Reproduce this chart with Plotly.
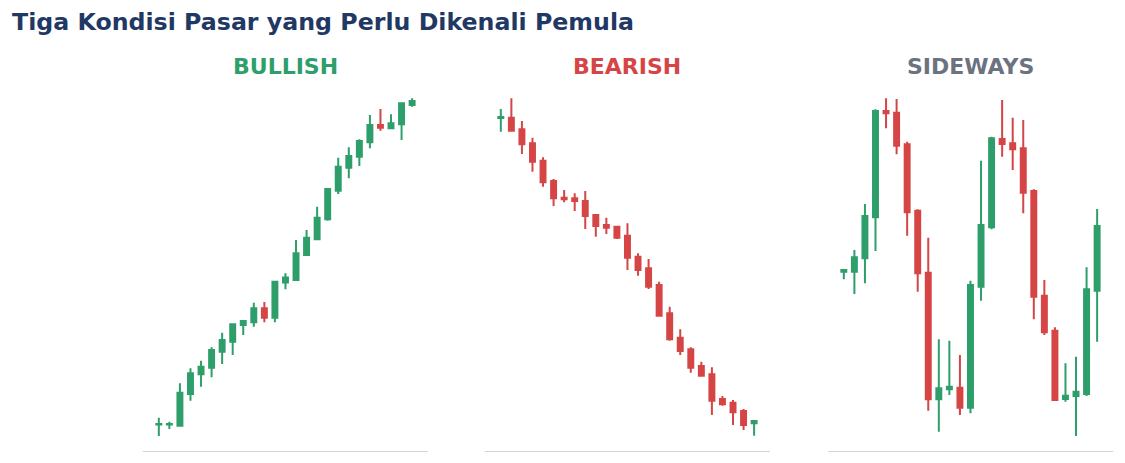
import plotly.graph_objects as go

# candle index (same for all three panels)
idx = list(range(25))

# BULLISH
bull_open = [26.5, 26.5, 25.3, 57, 76.7, 83.3, 99.3, 109.3, 126, 128.7, 142.7, 133.3, 168.5,
             171, 196, 211.7, 231.7, 260.3, 283.3, 294.3, 308.7, 326, 322.7, 326.7, 346]
bull_high = [33.3, 29.3, 67.7, 82.7, 90.3, 103.7, 118.3, 127.7, 131, 148.3, 149, 170.3, 177.7,
             211, 221, 244.3, 262.7, 293.3, 303.7, 311.7, 336, 342, 336.7, 348.3, 352.7]
bull_low = [15, 22, 24.3, 50.3, 64.3, 73.7, 87, 96, 116, 124.3, 128.7, 128.7, 161.7,
            170.3, 195, 211, 230.3, 257, 272.7, 285, 302.7, 320.3, 322.3, 311, 344.3]
bull_close = [27, 27, 58.3, 77.7, 84.3, 101, 111, 126.7, 130, 142.7, 133.3, 169.3, 173.5,
              197.7, 213.3, 233.3, 262, 284.3, 295, 310, 326, 323.3, 327.7, 347.7, 350]

# BEARISH
bear_open = [333, 333.3, 321.7, 307.7, 290.3, 270, 253.3, 252.7, 250, 236, 226, 224.3, 215.3,
             194.3, 182.7, 166, 137.7, 113.3, 101.7, 85, 76.7, 52, 48.3, 40, 27.7]
bear_high = [342, 352.7, 330, 313.3, 293.7, 272, 261, 257.7, 260, 236.7, 233.3, 225.3, 227.7,
             197.7, 192, 169.3, 144.3, 121.7, 103.7, 89.3, 83.7, 55, 51, 42, 31]
bear_low = [319.3, 319.3, 297, 279.3, 264.3, 245, 248.7, 240, 222, 214.3, 217, 212, 181,
            175.3, 162, 134.3, 110.3, 96, 78.3, 75, 36, 45.3, 26, 21, 15.3]
bear_close = [334, 320.3, 306.7, 289.3, 268.7, 252.7, 251.7, 250, 235, 225, 223.3, 213.3, 193.3,
              181, 164.3, 135.3, 111.7, 100, 83.3, 75.3, 50.3, 46.7, 38.7, 26, 30]

# SIDEWAYS
side_open = [179.3, 179.3, 192.7, 233.7, 340, 338.3, 306.7, 240.3, 178.3, 51.7, 61.7, 63.3, 43.3,
             164.3, 223.7, 312, 307.7, 302.7, 260, 155.3, 120.3, 52, 55, 57, 160.3]
side_high = [181.5, 201, 247, 341.7, 352.7, 352, 309.3, 241.7, 213.3, 111.7, 110.3, 96, 170.3,
             290.3, 314.3, 351, 333.3, 331, 261.7, 171, 123.7, 87.7, 94.3, 183.7, 242]
side_low = [171.7, 157, 167.7, 200, 322.7, 296.7, 215.3, 159.3, 40.3, 19.3, 56, 36, 37.7,
            150.3, 221.7, 294.3, 281, 237.7, 131.7, 116, 50, 49.3, 15, 55, 109.3]
side_close = [181, 193.7, 235, 340, 337.7, 305.3, 238.7, 177.7, 51.7, 62.7, 64.3, 43.3, 166,
              226, 312.7, 307, 301.7, 258.3, 154.3, 118.7, 51, 55.3, 59.3, 161.7, 225]

panel_titles = ["BULLISH", "BEARISH", "SIDEWAYS"]
title_colors = ["#2e9e6b", "#d64545", "#6b7280"]
GREEN = "#2e9e6b"
RED = "#d64545"

panels = [
    (bull_open, bull_high, bull_low, bull_close),
    (bear_open, bear_high, bear_low, bear_close),
    (side_open, side_high, side_low, side_close),
]
x_domains = [[0.1271, 0.3804], [0.4311, 0.6844], [0.736, 0.9893]]
y_domain = [12 / 463, 368 / 463]

fig = go.Figure()
for i, (o, h, l, c) in enumerate(panels):
    n = "" if i == 0 else str(i + 1)
    fig.add_trace(go.Candlestick(
        x=idx, open=o, high=h, low=l, close=c,
        xaxis="x" + n, yaxis="y" + n,
        increasing=dict(line=dict(color=GREEN, width=2), fillcolor=GREEN),
        decreasing=dict(line=dict(color=RED, width=2), fillcolor=RED),
        whiskerwidth=0,
        showlegend=False, hoverinfo="skip",
    ))
    fig.layout["xaxis" + n] = dict(
        domain=x_domains[i], range=[-1.5, 25.5], anchor="y" + n,
        showgrid=False, zeroline=False, showticklabels=False, ticks="",
        showline=True, linecolor="#d4d4d8", linewidth=1,
        rangeslider=dict(visible=False), fixedrange=True,
    )
    fig.layout["yaxis" + n] = dict(
        domain=y_domain, range=[0, 356], anchor="x" + n,
        showgrid=False, zeroline=False, showticklabels=False, ticks="",
        showline=False, fixedrange=True,
    )
    fig.add_annotation(
        text="<b>" + panel_titles[i] + "</b>", xref="paper", yref="paper",
        x=sum(x_domains[i]) / 2, y=1 - 67 / 463, xanchor="center", yanchor="middle",
        showarrow=False, font=dict(family="DejaVu Sans", size=22, color=title_colors[i]),
    )

fig.add_annotation(
    text="<b>Tiga Kondisi Pasar yang Perlu Dikenali Pemula</b>", xref="paper", yref="paper",
    x=10 / 1125, y=1 - 22 / 463, xanchor="left", yanchor="middle", showarrow=False,
    font=dict(family="DejaVu Sans", size=23.7, color="#1f3864"),
)

fig.update_layout(
    width=1125, height=463,
    margin=dict(l=0, r=0, t=0, b=0),
    paper_bgcolor="white", plot_bgcolor="white",
    boxgap=0.33,
)

# page body has a default 8px margin; drop it so the figure sits at the corner
fig.write_html("out.html", config={"displayModeBar": False},
               post_script="document.body.style.margin='0';")
